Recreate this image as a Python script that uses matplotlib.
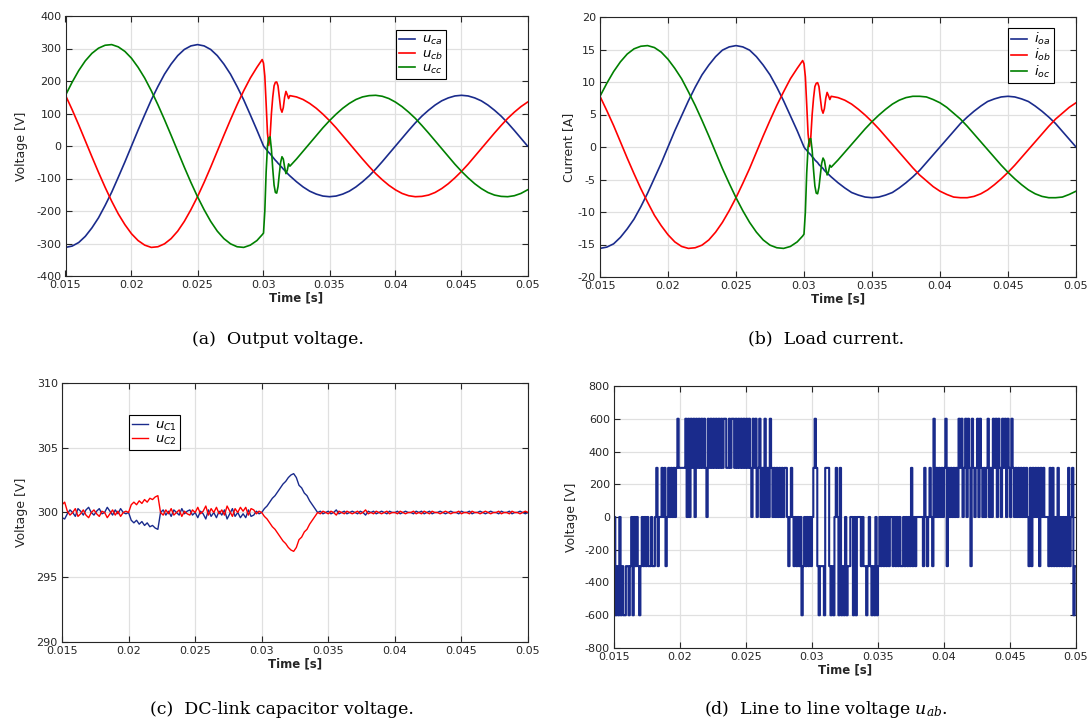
import numpy as np
import matplotlib
matplotlib.use("Agg")
import matplotlib.pyplot as plt

# ---------------- data ----------------
# (a)/(b) sample times [s]
t_ac = [0.015, 0.0155, 0.016, 0.0165, 0.017, 0.0175, 0.018, 0.0185, 0.019, 0.0195,
        0.02, 0.0205, 0.021, 0.0215, 0.022, 0.0225, 0.023, 0.0235, 0.024, 0.0245,
        0.025, 0.0255, 0.026, 0.0265, 0.027, 0.0275, 0.028, 0.0285, 0.029, 0.0295,
        0.0299, 0.0300, 0.0301, 0.0302, 0.0303, 0.0304, 0.0305, 0.0306, 0.0307, 0.0308,
        0.0309, 0.0310, 0.0311, 0.0312, 0.0313, 0.0314, 0.0315, 0.0316, 0.0317, 0.0318,
        0.0319, 0.0320,
        0.0325, 0.033, 0.0335, 0.034, 0.0345, 0.035, 0.0355, 0.036, 0.0365, 0.037,
        0.0375, 0.038, 0.0385, 0.039, 0.0395, 0.04, 0.0405, 0.041, 0.0415, 0.042,
        0.0425, 0.043, 0.0435, 0.044, 0.0445, 0.045, 0.0455, 0.046, 0.0465, 0.047,
        0.0475, 0.048, 0.0485, 0.049, 0.0495, 0.05]

# (a) output voltages [V]
u_ca = [-312, -308, -297, -278, -252, -221, -183, -142, -96, -49, 0, 49, 96, 142, 183,
        221, 252, 278, 297, 308, 312, 308, 297, 278, 252, 221, 183, 142, 96, 49,
        10, 0, -5, -10, -15, -20, -24, -29, -34, -39, -44, -48, -53, -57, -62, -66,
        -71, -75, -79, -84, -88, -92,
        -110, -126, -139, -148, -154, -156, -154, -148, -139, -126, -110, -92, -71, -48,
        -24, 0, 24, 48, 71, 92, 110, 126, 139, 148, 154, 156, 154, 148, 139, 126, 110,
        92, 71, 48, 24, 0]
u_cb = [156, 112, 65, 16, -33, -81, -127, -170, -209, -242, -270, -291, -305, -312, -310,
        -301, -285, -262, -232, -196, -156, -112, -65, -16, 33, 81, 127, 170, 209, 242,
        266, 255, 215, 130, 40, 2, 30, 100, 150, 185, 196, 197, 185, 150, 115, 104, 118,
        150, 168, 158, 146, 155,
        151, 143, 131, 116, 98, 78, 56, 32, 8, -16, -40, -63, -85, -104, -121, -135, -146,
        -153, -156, -155, -151, -143, -131, -116, -98, -78, -56, -32, -8, 16, 40, 63, 85,
        104, 121, 135]
u_cc = [156, 196, 232, 262, 285, 301, 310, 312, 305, 291, 270, 242, 209, 170, 127, 81,
        33, -16, -65, -112, -156, -196, -232, -262, -285, -301, -310, -312, -305, -291,
        -273, -268, -200, -80, 0, 25, 28, -10, -70, -120, -143, -145, -125, -85, -50, -33,
        -40, -65, -85, -75, -55, -62,
        -40, -16, 8, 32, 56, 78, 98, 116, 131, 143, 151, 155, 156, 153, 146, 135, 121, 104,
        85, 63, 40, 16, -8, -32, -56, -78, -98, -116, -131, -143, -151, -155, -156, -153,
        -146, -135]

# (b) load currents [A]
i_oa = [-15.6, -15.4, -14.9, -13.9, -12.6, -11.1, -9.2, -7.1, -4.8, -2.5, 0, 2.5, 4.8,
        7.1, 9.2, 11.1, 12.6, 13.9, 14.9, 15.4, 15.6, 15.4, 14.9, 13.9, 12.6, 11.1, 9.2,
        7.1, 4.8, 2.5,
        0.5, 0, -0.3, -0.5, -0.8, -1.0, -1.2, -1.5, -1.7, -2.0, -2.2, -2.4, -2.7, -2.9,
        -3.1, -3.3, -3.6, -3.8, -4.0, -4.2, -4.4, -4.6,
        -5.5, -6.3, -7.0, -7.4, -7.7, -7.8, -7.7, -7.4, -7.0, -6.3, -5.5, -4.6, -3.6, -2.4,
        -1.2, 0, 1.2, 2.4, 3.6, 4.6, 5.5, 6.3, 7.0, 7.4, 7.7, 7.8, 7.7, 7.4, 7.0, 6.3, 5.5,
        4.6, 3.6, 2.4, 1.2, 0]
i_ob = [7.8, 5.6, 3.3, 0.8, -1.7, -4.1, -6.4, -8.5, -10.5, -12.1, -13.5, -14.6, -15.3,
        -15.6, -15.5, -15.1, -14.3, -13.1, -11.6, -9.8, -7.8, -5.6, -3.3, -0.8, 1.7, 4.1,
        6.4, 8.5, 10.5, 12.1,
        13.3, 12.8, 10.8, 6.5, 2.0, 0.1, 1.5, 5.0, 7.5, 9.3, 9.8, 9.9, 9.3, 7.5, 5.8, 5.2,
        5.9, 7.5, 8.4, 7.9, 7.3, 7.8,
        7.6, 7.2, 6.6, 5.8, 4.9, 3.9, 2.8, 1.6, 0.4, -0.8, -2.0, -3.2, -4.3, -5.2, -6.1,
        -6.8, -7.3, -7.7, -7.8, -7.8, -7.6, -7.2, -6.6, -5.8, -4.9, -3.9, -2.8, -1.6, -0.4,
        0.8, 2.0, 3.2, 4.3, 5.2, 6.1, 6.8]
i_oc = [7.8, 9.8, 11.6, 13.1, 14.3, 15.1, 15.5, 15.6, 15.3, 14.6, 13.5, 12.1, 10.5, 8.5,
        6.4, 4.1, 1.7, -0.8, -3.3, -5.6, -7.8, -9.8, -11.6, -13.1, -14.3, -15.1, -15.5,
        -15.6, -15.3, -14.6,
        -13.7, -13.4, -10.0, -4.0, 0.0, 1.2, 1.3, -0.5, -3.5, -6.0, -7.1, -7.2, -6.2, -4.3,
        -2.5, -1.7, -2.1, -3.3, -4.3, -3.8, -2.8, -3.1,
        -2.0, -0.8, 0.4, 1.6, 2.8, 3.9, 4.9, 5.8, 6.6, 7.2, 7.6, 7.8, 7.8, 7.7, 7.3, 6.8,
        6.1, 5.2, 4.3, 3.2, 2.0, 0.8, -0.4, -1.6, -2.8, -3.9, -4.9, -5.8, -6.6, -7.2, -7.6,
        -7.8, -7.8, -7.7, -7.3, -6.8]

# (c) DC-link capacitor voltages [V], sampled every 0.2 ms from 0.015 s
t_c_start, t_c_step = 0.015, 0.0002
u_C1 = [299.6, 299.5, 299.9, 300.2, 300.0, 299.7, 300.3, 300.1, 299.8, 300.2,
        300.4, 300.0, 299.8, 300.1, 300.3, 299.9, 300.0, 300.4, 300.1, 299.8,
        300.2, 299.9, 300.3, 300.0, 299.9,
        300.0, 299.4, 299.2, 299.4, 299.1, 299.3, 299.0, 299.2, 298.9, 299.0, 298.8, 298.7, 300.0,
        300.2, 299.8, 300.1, 299.7, 300.2, 300.0, 299.8, 300.3, 299.9, 300.1,
        300.2, 299.8, 300.0, 299.6, 300.1, 299.9, 299.5, 300.2, 299.7, 300.0,
        299.6, 300.1, 299.8, 300.2, 299.5, 299.9, 300.3, 299.7, 300.0, 299.6,
        299.9, 299.6, 300.2, 299.7, 299.8, 300.1, 299.9,
        300.0, 300.3, 300.5, 300.8, 301.1, 301.3, 301.6, 301.9, 302.2, 302.4, 302.7,
        302.9, 303.0, 302.7, 302.1, 301.9, 301.5, 301.3, 300.9, 300.6, 300.3, 300.0,
        300.1, 299.9, 300.0, 300.1, 299.9, 300.0, 300.2, 299.9, 300.0, 300.1,
        299.9, 300.0, 300.1, 300.0, 299.9, 300.1, 300.0, 299.8, 300.1, 300.0,
        300.1, 299.9, 300.0, 300.1, 300.0, 299.9, 300.1, 300.0, 300.0, 300.1,
        299.9, 300.0, 300.1, 300.0, 300.0, 299.9, 300.1, 300.0, 300.1, 299.9,
        300.0, 300.1, 299.9, 300.0, 300.0, 300.1, 300.0, 299.9, 300.0, 300.1,
        300.0, 300.0, 299.9, 300.1, 300.0, 300.0, 300.1, 299.9, 300.0, 300.0,
        300.1, 300.0, 299.9, 300.0, 300.1, 300.0, 300.0, 299.9, 300.1, 300.0,
        300.0, 300.1, 299.9, 300.0, 300.0, 300.1, 300.0, 299.9, 300.0]
u_C2 = [300.6, 300.8, 300.1, 299.8, 300.0, 300.3, 299.7, 299.9, 300.2, 299.8,
        299.6, 300.0, 300.2, 299.9, 299.7, 300.1, 300.0, 299.6, 299.9, 300.2,
        299.8, 300.1, 299.7, 300.0, 300.1,
        300.0, 300.6, 300.8, 300.6, 300.9, 300.7, 301.0, 300.8, 301.1, 301.0, 301.2, 301.3, 300.0,
        299.8, 300.2, 299.9, 300.3, 299.8, 300.0, 300.2, 299.7, 300.1, 299.9,
        299.8, 300.2, 300.0, 300.4, 299.9, 300.1, 300.5, 299.8, 300.3, 300.0,
        300.4, 299.9, 300.2, 299.8, 300.5, 300.1, 299.7, 300.3, 300.0, 300.4,
        300.1, 300.4, 299.8, 300.3, 300.2, 299.9, 300.1,
        300.0, 299.7, 299.5, 299.2, 298.9, 298.7, 298.4, 298.1, 297.8, 297.6, 297.3,
        297.1, 297.0, 297.3, 297.9, 298.1, 298.5, 298.7, 299.1, 299.4, 299.7, 300.0,
        299.9, 300.1, 300.0, 299.9, 300.1, 300.0, 299.8, 300.1, 300.0, 299.9,
        300.1, 300.0, 299.9, 300.0, 300.1, 299.9, 300.0, 300.2, 299.9, 300.0,
        299.9, 300.1, 300.0, 299.9, 300.0, 300.1, 299.9, 300.0, 300.0, 299.9,
        300.1, 300.0, 299.9, 300.0, 300.0, 300.1, 299.9, 300.0, 299.9, 300.1,
        300.0, 299.9, 300.1, 300.0, 300.0, 299.9, 300.0, 300.1, 300.0, 299.9,
        300.0, 300.0, 300.1, 299.9, 300.0, 300.0, 299.9, 300.1, 300.0, 300.0,
        299.9, 300.0, 300.1, 300.0, 299.9, 300.0, 300.0, 300.1, 299.9, 300.0,
        300.0, 299.9, 300.1, 300.0, 300.0, 299.9, 300.0, 300.1, 300.0]

# (d) line-to-line voltage: level codes, one per 0.1 ms from 0.015 s
t_d_start, t_d_step = 0.015, 0.0001
uab_levels = [-600, -300, 0, 300, 600]
uab_codes = ["2010201001", "1012021210", "1212121121", "1231223231", "2323232343",
             "3333424243", "4243434343", "2434343434", "3434433434", "4343434343",
             "4343243423", "4232423243", "2323232323", "3212321212", "1201212121",
             "2343101110", "3331010232", "0301020112", "2020222121", "1012101020",
             "1212121212", "2121212112", "1212131212", "2222132123", "2142323232",
             "3413232323", "2434234243", "1432342432", "3234232434", "2432434243",
             "2432323232", "3232131323", "2313232221", "3131213121", "2121312301",
             "1"]

x_ticks = [0.015, 0.02, 0.025, 0.03, 0.035, 0.04, 0.045, 0.05]
x_tick_labels = ["0.015", "0.02", "0.025", "0.03", "0.035", "0.04", "0.045", "0.05"]

captions = ["(a)  Output voltage.", "(b)  Load current.",
            "(c)  DC-link capacitor voltage.", "(d)  Line to line voltage $u_{ab}$."]

# ---------------- style ----------------
BLUE = "#1a2b8c"
RED = "#ff0000"
GREEN = "#008000"
TXT = "#262626"

plt.rcParams["font.family"] = ["DejaVu Sans"]
plt.rcParams["mathtext.fontset"] = "dejavusans"
plt.rcParams["path.simplify"] = False

W, H = 1091, 722
fig = plt.figure(figsize=(W / 100, H / 100), dpi=100)


def make_ax(l, r, t, b):
    return fig.add_axes([l / W, 1 - b / H, (r - l) / W, (b - t) / H])


def style(ax, ylim, yticks, ylabel, ypad):
    ax.set_xlim(0.015, 0.05)
    ax.set_ylim(*ylim)
    ax.set_xticks(x_ticks)
    ax.set_xticklabels(x_tick_labels)
    ax.set_yticks(yticks)
    ax.set_yticklabels([str(v) for v in yticks])
    ax.grid(True, color="#e0e0e0", linewidth=0.9)
    ax.set_axisbelow(True)
    ax.tick_params(direction="in", length=4, width=0.8, top=True, right=True,
                   labelsize=8, colors=TXT, pad=3)
    for s in ax.spines.values():
        s.set_color(TXT)
        s.set_linewidth(0.8)
    ax.set_ylabel(ylabel, fontsize=9, color=TXT, labelpad=ypad)
    ax.set_xlabel("Time [s]", fontsize=8.5, fontweight="bold", color=TXT, labelpad=1)


def legend(ax, anchor):
    lg = ax.legend(loc="upper left", bbox_to_anchor=anchor, fontsize=9.5,
                   frameon=True, fancybox=False, framealpha=1, edgecolor="black",
                   handlelength=1.2, handletextpad=0.5, labelspacing=0.0,
                   borderpad=0.25, borderaxespad=0)
    lg.get_frame().set_linewidth(0.8)


lw = 1.2

# (a)
ax_a = make_ax(65.5, 527.5, 16, 276)
ax_a.plot(t_ac, u_ca, color=BLUE, lw=lw, label="$u_{ca}$")
ax_a.plot(t_ac, u_cb, color=RED, lw=lw, label="$u_{cb}$")
ax_a.plot(t_ac, u_cc, color=GREEN, lw=lw, label="$u_{cc}$")
style(ax_a, (-400, 400), list(range(-400, 401, 100)), "Voltage [V]", 6)
legend(ax_a, (0.715, 0.946))

# (b)
ax_b = make_ax(600, 1076, 17, 277)
ax_b.plot(t_ac, i_oa, color=BLUE, lw=lw, label="$i_{oa}$")
ax_b.plot(t_ac, i_ob, color=RED, lw=lw, label="$i_{ob}$")
ax_b.plot(t_ac, i_oc, color=GREEN, lw=lw, label="$i_{oc}$")
style(ax_b, (-20, 20), list(range(-20, 21, 5)), "Current [A]", 2)
legend(ax_b, (0.857, 0.958))

# (c)
t_c = t_c_start + t_c_step * np.arange(len(u_C1))
ax_c = make_ax(62, 528, 383, 642)
ax_c.plot(t_c, u_C1, color=BLUE, lw=1.0, label="$u_{C1}$")
ax_c.plot(t_c, u_C2, color=RED, lw=1.0, label="$u_{C2}$")
style(ax_c, (290, 310), list(range(290, 311, 5)), "Voltage [V]", 6)
legend(ax_c, (0.144, 0.876))

# (d)
uab = [uab_levels[int(ch)] for ch in "".join(uab_codes)]
t_d = t_d_start + t_d_step * np.arange(len(uab))
ax_d = make_ax(614, 1076, 386, 648)
ax_d.plot(t_d, uab, color=BLUE, lw=1.5, drawstyle="steps-post", snap=False,
          antialiased=True)
style(ax_d, (-800, 800), list(range(-800, 801, 200)), "Voltage [V]", 5)

# captions
cap_pos = [(278, 339), (826, 339), (282, 709), (826, 709)]
for (cx, cy), txt in zip(cap_pos, captions):
    fig.text(cx / W, 1 - cy / H, txt, ha="center", va="center", fontsize=12.5,
             family="DejaVu Serif", math_fontfamily="dejavuserif", color="black")

fig.savefig("out.png", dpi=100)
